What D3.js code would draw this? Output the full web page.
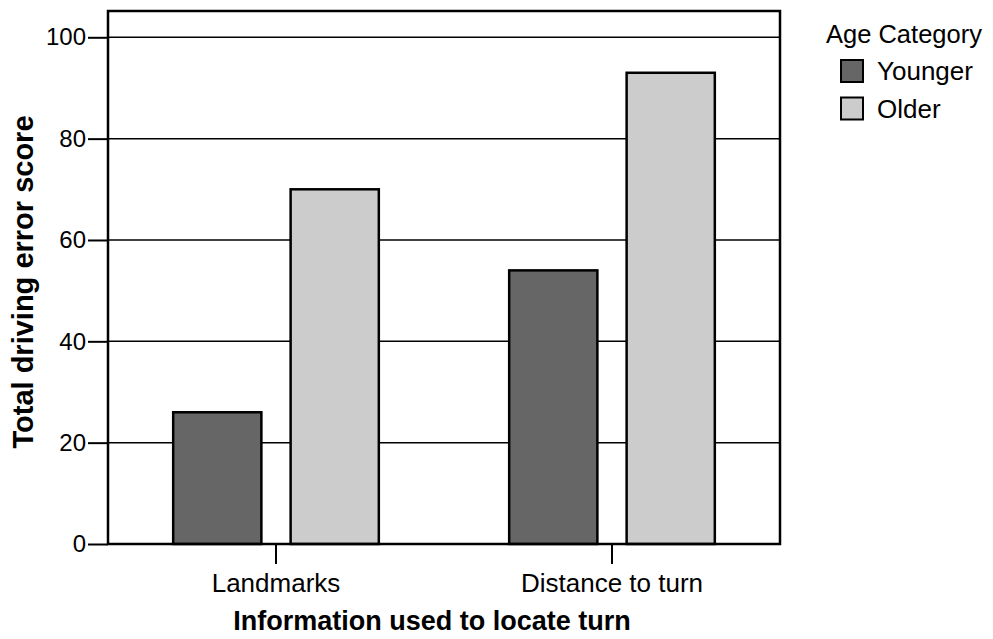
<!DOCTYPE html>
<html><head><meta charset="utf-8">
<script src="https://cdn.jsdelivr.net/npm/d3@7"></script>
<style>body{margin:0;background:#fff}svg{display:block;font-family:"Liberation Sans",Arial,sans-serif}</style>
</head><body>
<svg id="c" width="993" height="639"></svg>
<script>
const categories = ["Landmarks", "Distance to turn"];
const seriesNames = ["Younger", "Older"];
const younger = [26, 54];
const older = [70, 93];
const yTicks = [0, 20, 40, 60, 80, 100];
const colors = ["#666666", "#cccccc"];

const FF = "Liberation Sans, Arial, sans-serif";
const svg = d3.select("#c");
const L = 108, R = 780, T = 11, B = 544;
const x = d3.scaleBand().domain(categories).range([L, R]).padding(0);
const xi = d3.scaleBand().domain(seriesNames).range([0, x.bandwidth()]).paddingInner(0.249).paddingOuter(0.555);
const y = d3.scaleLinear().domain([0, 100]).range([B, B - 506.7]);

// gridlines
svg.append("g").selectAll("line").data(yTicks.filter(d => d > 0)).join("line")
  .attr("x1", L).attr("x2", R).attr("y1", d => y(d)).attr("y2", d => y(d))
  .attr("stroke", "#000").attr("stroke-width", 1.5);

// bars
const data = categories.map((c, i) => ({c, vals: [younger[i], older[i]]}));
const g = svg.append("g").selectAll("g").data(data).join("g")
  .attr("transform", d => `translate(${x(d.c)},0)`);
g.selectAll("rect").data(d => d.vals.map((v, j) => ({s: seriesNames[j], v, j}))).join("rect")
  .attr("x", d => xi(d.s)).attr("width", xi.bandwidth())
  .attr("y", d => y(d.v)).attr("height", d => y(0) - y(d.v))
  .attr("fill", d => colors[d.j]).attr("stroke", "#000").attr("stroke-width", 2.5);

// frame
svg.append("rect").attr("x", L).attr("y", T).attr("width", R - L).attr("height", B - T)
  .attr("fill", "none").attr("stroke", "#000").attr("stroke-width", 2.5);

// y axis
const ya = svg.append("g").attr("transform", `translate(${L},0)`)
  .call(d3.axisLeft(y).tickValues(yTicks).tickSize(20).tickPadding(2));
ya.select(".domain").remove();
ya.selectAll("line").attr("stroke", "#000").attr("stroke-width", 2);
ya.selectAll("text").attr("font-size", 24).attr("fill", "#000").attr("font-family", FF);

// x axis
const xa = svg.append("g").attr("transform", `translate(0,${B})`)
  .call(d3.axisBottom(x).tickSize(20).tickPadding(10));
xa.select(".domain").remove();
xa.selectAll("line").attr("stroke", "#000").attr("stroke-width", 2);
xa.selectAll("text").attr("font-size", 26).attr("fill", "#000").attr("font-family", FF);

// axis titles
svg.append("text").attr("x", (L + R) / 2 - 12).attr("y", 630).attr("text-anchor", "middle")
  .attr("font-size", 27).attr("font-weight", "bold").text("Information used to locate turn");
svg.append("text").attr("transform", `translate(33,282) rotate(-90)`).attr("text-anchor", "middle")
  .attr("font-size", 29).attr("font-weight", "bold").text("Total driving error score");

// legend
svg.append("text").attr("x", 826).attr("y", 43).attr("font-size", 25.5).text("Age Category");
const lg = svg.append("g").selectAll("g").data(seriesNames).join("g")
  .attr("transform", (d, i) => `translate(841,${60 + i * 37.5})`);
lg.append("rect").attr("width", 22).attr("height", 22).attr("fill", (d, i) => colors[i])
  .attr("stroke", "#000").attr("stroke-width", 2);
lg.append("text").attr("x", 36).attr("y", 20).attr("font-size", 26).text(d => d);
</script>
</body></html>
